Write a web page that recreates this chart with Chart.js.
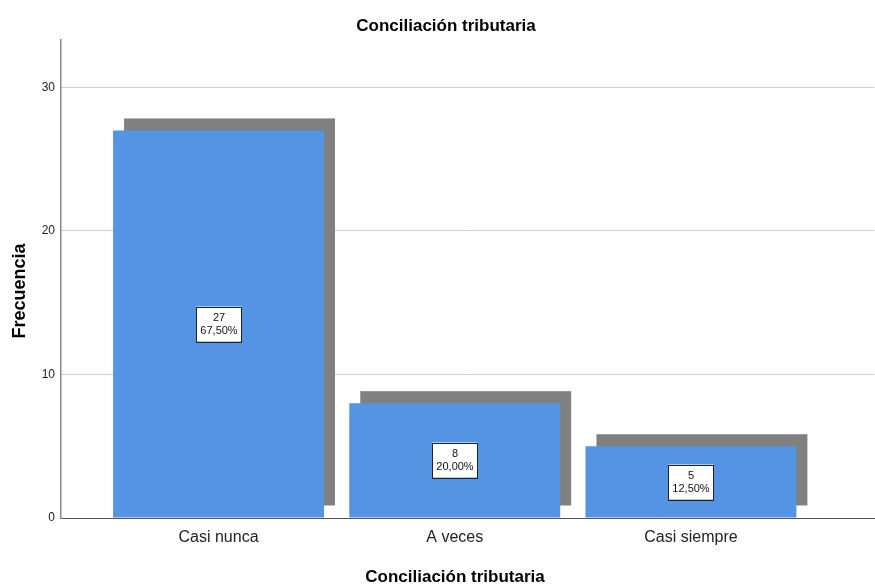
<!DOCTYPE html>
<html>
<head>
<meta charset="utf-8">
<script src="https://cdn.jsdelivr.net/npm/chart.js@4.4.1/dist/chart.umd.min.js"></script>
<style>
  html, body { margin: 0; padding: 0; background: #fff; }
  canvas { display: block; }
</style>
</head>
<body>
<canvas id="myChart" width="875" height="586"></canvas>
<script>
const categories = ["Casi nunca", "A veces", "Casi siempre"];
const frequencies = [27, 8, 5];
const yTicks = [0, 10, 20, 30];
const chartTitle = "Conciliación tributaria";
const xTitle = "Conciliación tributaria";
const yTitle = "Frecuencia";

const FONT = '"Liberation Sans", Arial, sans-serif';
const total = frequencies.reduce((a, b) => a + b, 0);
const pctLabel = (v) => (v / total * 100).toFixed(2).replace(".", ",") + "%";

// grey block offset behind each bar
const barShadow = {
  id: "barShadow",
  beforeDatasetsDraw(chart) {
    const ctx = chart.ctx;
    const meta = chart.getDatasetMeta(0);
    ctx.save();
    ctx.fillStyle = "#808080";
    meta.data.forEach((bar) => {
      const { x, y, base, width } = bar.getProps(["x", "y", "base", "width"], true);
      ctx.fillRect(x - width / 2 + 11, y - 12, width, base - y);
    });
    ctx.restore();
  },
};

// boxed count + percentage in the middle of each bar
const valueBoxes = {
  id: "valueBoxes",
  afterDatasetsDraw(chart) {
    const ctx = chart.ctx;
    const meta = chart.getDatasetMeta(0);
    ctx.save();
    ctx.font = "11px " + FONT;
    ctx.textAlign = "center";
    ctx.textBaseline = "middle";
    meta.data.forEach((bar, i) => {
      const { x, y, base } = bar.getProps(["x", "y", "base"], true);
      const lines = [String(frequencies[i]), pctLabel(frequencies[i])];
      const w = Math.max(...lines.map((t) => ctx.measureText(t).width)) + 8;
      const h = 35;
      const cx = Math.round(x);
      const cy = Math.round((y + base) / 2);
      ctx.fillStyle = "#fff";
      ctx.fillRect(cx - w / 2, cy - h / 2, w, h);
      ctx.strokeStyle = "#222";
      ctx.lineWidth = 1;
      ctx.strokeRect(Math.round(cx - w / 2) + 0.5, Math.round(cy - h / 2) + 0.5, Math.round(w), h);
      ctx.fillStyle = "#111";
      ctx.fillText(lines[0], cx, cy - 6);
      ctx.fillText(lines[1], cx, cy + 7);
    });
    ctx.restore();
  },
};

// chart title and axis titles
const titles = {
  id: "titles",
  afterDraw(chart) {
    const ctx = chart.ctx;
    ctx.save();
    ctx.fillStyle = "#000";
    ctx.textAlign = "center";
    ctx.textBaseline = "middle";
    ctx.font = "bold 17px " + FONT;
    ctx.fillText(chartTitle, 446, 26);
    ctx.fillText(xTitle, 455, 577);
    ctx.translate(20, 291);
    ctx.rotate(-Math.PI / 2);
    ctx.font = "bold 18px " + FONT;
    ctx.fillText(yTitle, 0, 0);
    ctx.restore();
  },
};

const ctx = document.getElementById("myChart");
new Chart(ctx, {
  type: "bar",
  data: {
    datasets: [
      {
        data: categories.map((c, i) => ({ x: i, y: frequencies[i] })),
        backgroundColor: "#5594E3",
        borderWidth: 0,
        categoryPercentage: 1,
        barPercentage: 0.893,
      },
    ],
  },
  options: {
    responsive: false,
    animation: false,
    layout: { padding: { top: 40, right: 1, left: 0, bottom: 0 } },
    plugins: {
      legend: { display: false },
      tooltip: { enabled: false },
      title: { display: false },
    },
    scales: {
      x: {
        type: "linear",
        offset: false,
        min: -0.667,
        max: 2.775,
        afterBuildTicks: (scale) => {
          scale.ticks = categories.map((c, i) => ({ value: i }));
        },
        afterFit: (scale) => {
          scale.height = 68;
        },
        ticks: {
          callback: (v) => categories[v],
          font: { family: FONT, size: 16 },
          color: "#222",
          padding: 10,
          maxRotation: 0,
        },
        grid: { display: false, drawTicks: false, offset: false },
        border: { color: "#555", width: 1 },
      },
      y: {
        min: 0,
        max: 33.3,
        afterBuildTicks: (scale) => {
          scale.ticks = yTicks.map((v) => ({ value: v }));
        },
        afterFit: (scale) => {
          scale.width = 61;
        },
        ticks: {
          font: { family: FONT, size: 12 },
          color: "#222",
          padding: 6,
        },
        grid: {
          drawTicks: false,
          color: (c) => (c.tick && c.tick.value === 0 ? "rgba(0,0,0,0)" : "#cfcfcf"),
        },
        border: { color: "#888", width: 1.5 },
      },
    },
  },
  plugins: [barShadow, valueBoxes, titles],
});
</script>
</body>
</html>
